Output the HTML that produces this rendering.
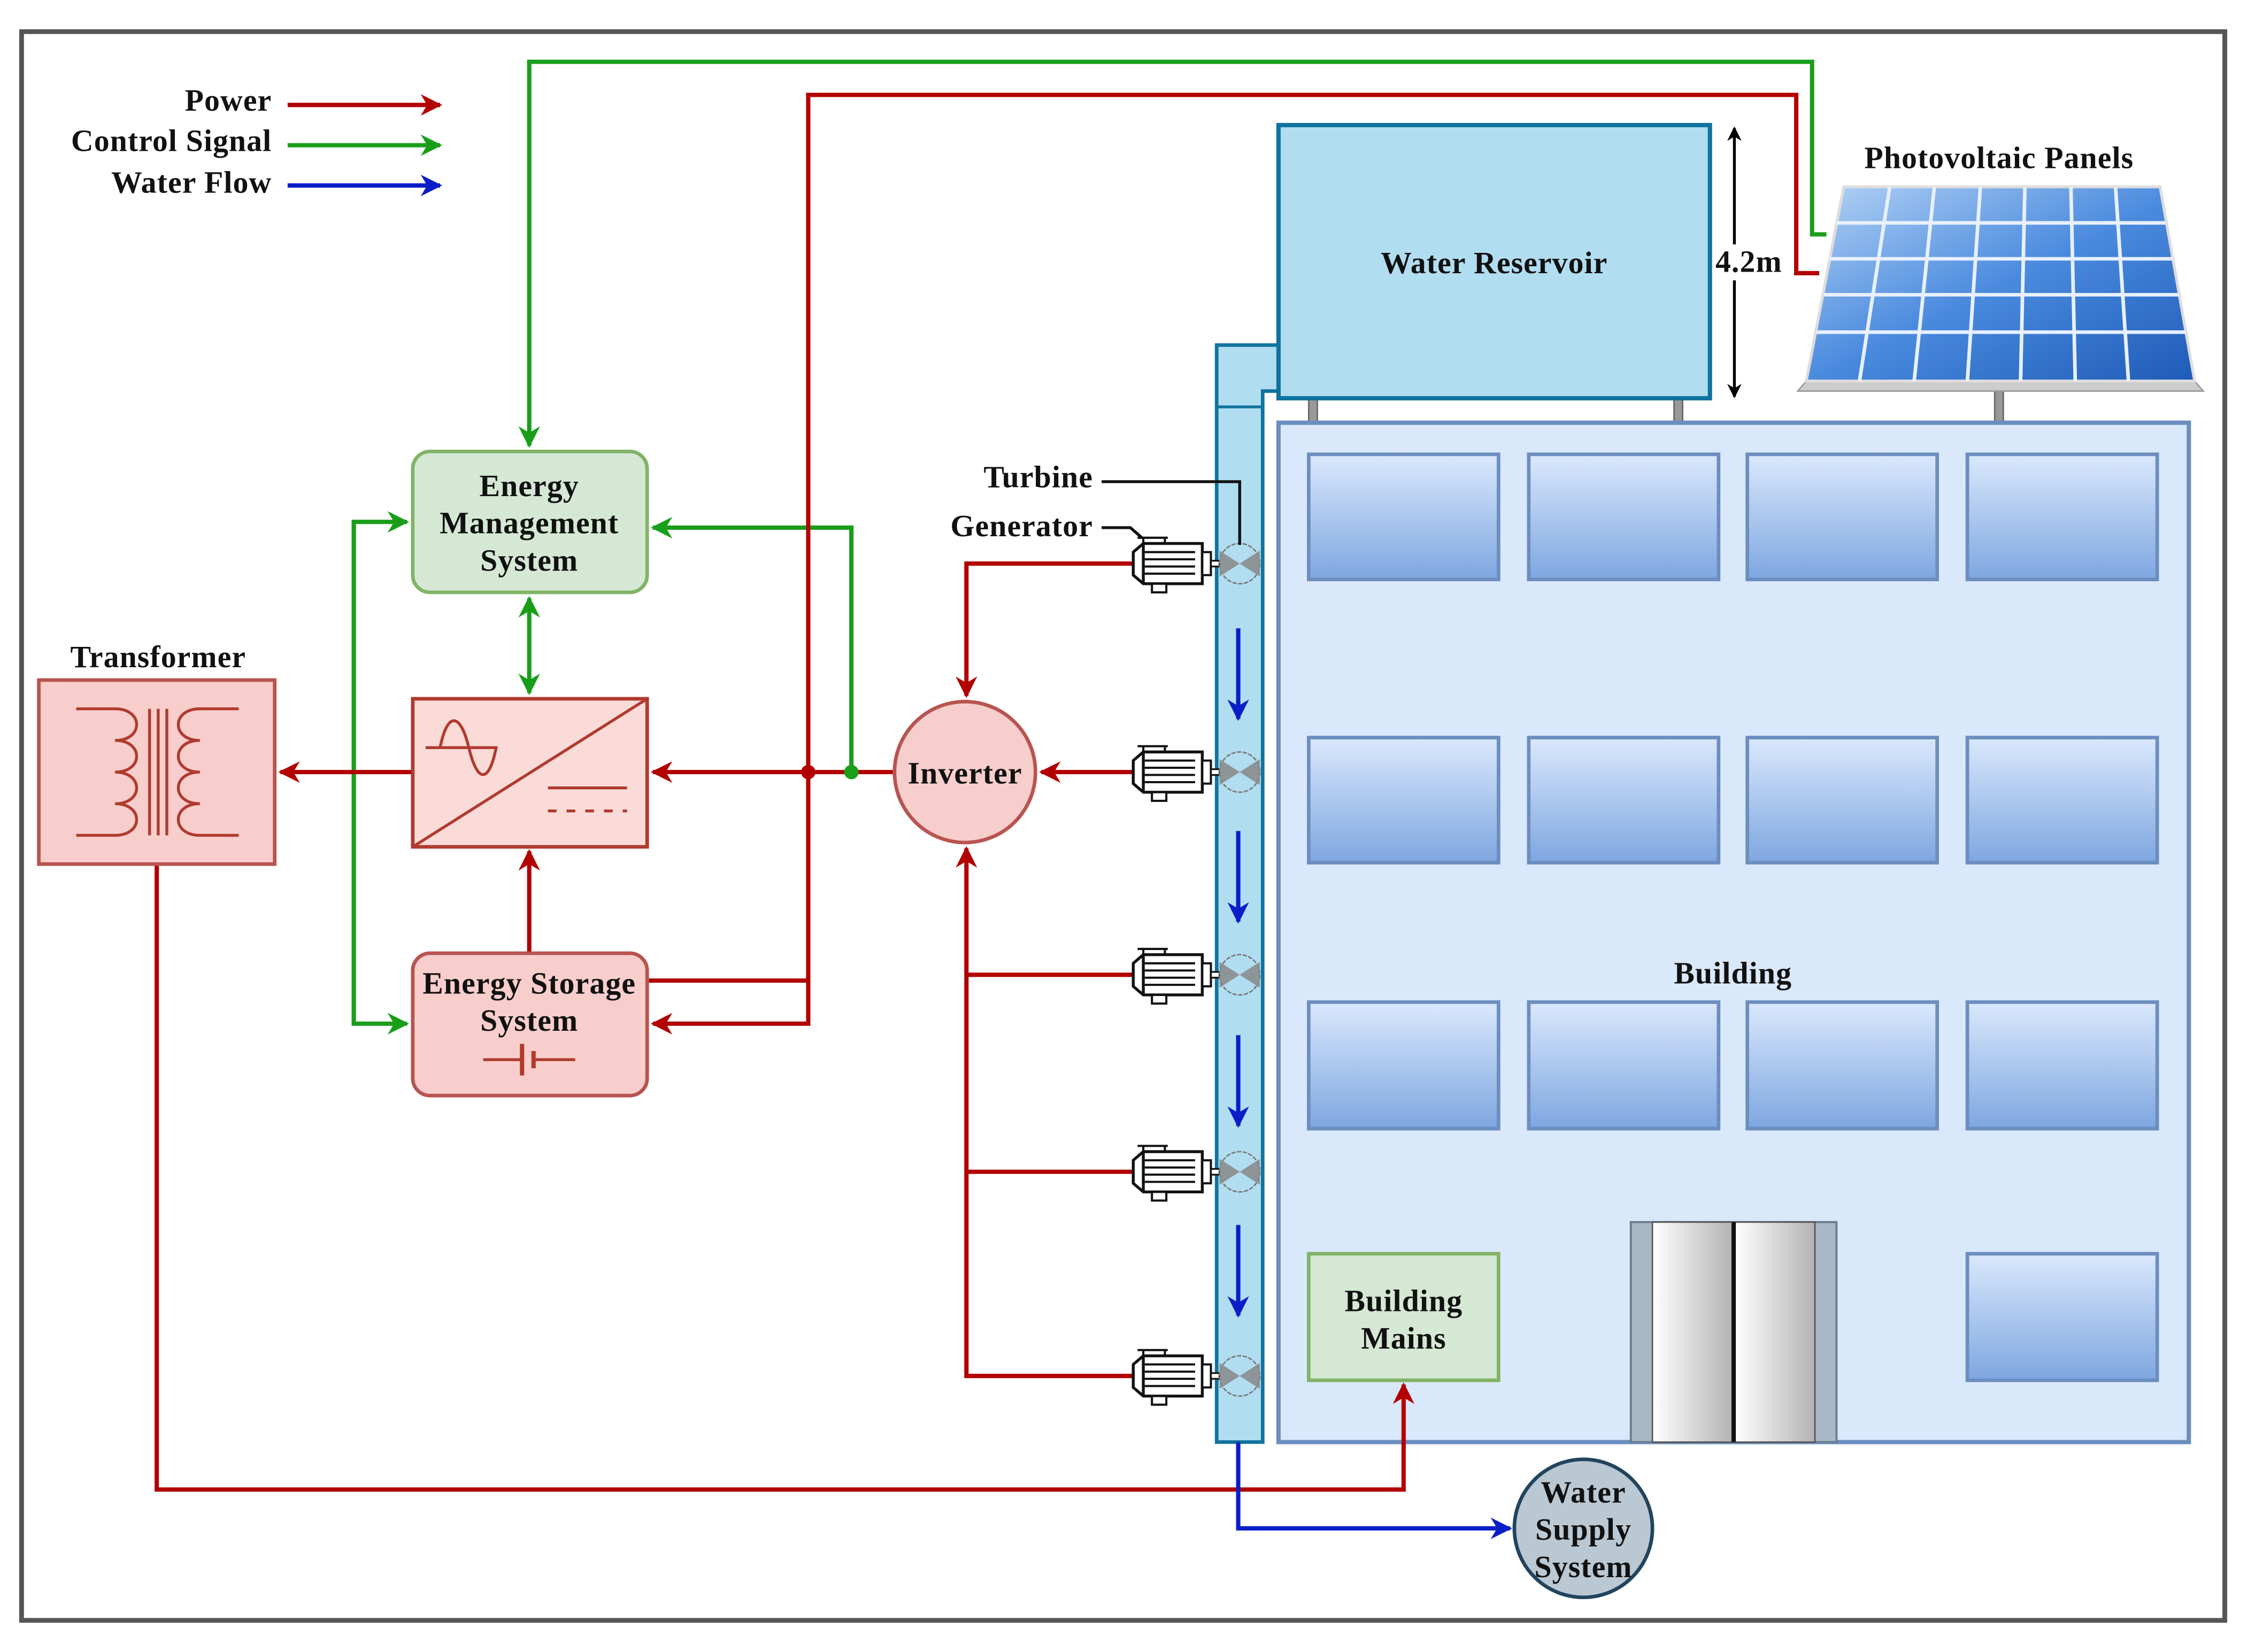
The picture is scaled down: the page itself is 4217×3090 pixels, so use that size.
<!DOCTYPE html>
<html><head><meta charset="utf-8"><style>
html,body{margin:0;padding:0;background:#fff}
svg{display:block}
text{font-family:"Liberation Serif",serif;font-weight:bold;font-size:21.5px;letter-spacing:0.4px;fill:#111}
</style></head><body>
<svg width="4217" height="3090" viewBox="0 0 1568 1149" preserveAspectRatio="none" xmlns="http://www.w3.org/2000/svg">
<defs>
<marker id="ar" viewBox="0 0 10 10" refX="9" refY="5" markerWidth="5" markerHeight="5" orient="auto-start-reverse"><path d="M0,0 L10,5 L0,10 L3,5z" fill="#b20000"/></marker>
<marker id="ag" viewBox="0 0 10 10" refX="9" refY="5" markerWidth="5" markerHeight="5" orient="auto-start-reverse"><path d="M0,0 L10,5 L0,10 L3,5z" fill="#1a9e1a"/></marker>
<marker id="ab" viewBox="0 0 10 10" refX="9" refY="5" markerWidth="5" markerHeight="5" orient="auto-start-reverse"><path d="M0,0 L10,5 L0,10 L3,5z" fill="#0a1ec8"/></marker>
<marker id="ak" viewBox="0 0 10 10" refX="9" refY="5" markerWidth="5" markerHeight="5" orient="auto-start-reverse"><path d="M0,0 L10,5 L0,10 L3,5z" fill="#000"/></marker>
<linearGradient id="win" x1="0" y1="0" x2="0" y2="1"><stop offset="0" stop-color="#dae8fc"/><stop offset="1" stop-color="#7ea6e0"/></linearGradient>
<linearGradient id="door" x1="0" y1="0" x2="1" y2="0"><stop offset="0" stop-color="#fff"/><stop offset="1" stop-color="#b3b3b3"/></linearGradient>
<linearGradient id="pv" x1="0" y1="0" x2="1" y2="1"><stop offset="0" stop-color="#b5d3f5"/><stop offset="0.5" stop-color="#4a8ade"/><stop offset="1" stop-color="#1e5bb8"/></linearGradient>
<g id="gen">
<path d="M-60,-8 L-53,-14 L-12,-14 L-12,14 L-53,14 L-60,8 Z" fill="#fff" stroke="#111" stroke-width="2"/>
<line x1="-53" y1="-14" x2="-53" y2="14" stroke="#111" stroke-width="2"/>
<path d="M-52,-8H-17M-52,-3H-17M-52,2H-17M-52,7H-17" stroke="#111" stroke-width="1.5"/>
<rect x="-12" y="-8" width="6" height="16" fill="#fff" stroke="#111" stroke-width="1.5"/>
<rect x="-6" y="-2" width="6" height="4" fill="#fff" stroke="#111" stroke-width="1.2"/>
<path d="M-57,-18H-36M-53,-18V-14M-38,-18V-14" stroke="#111" stroke-width="1.5"/>
<rect x="-47" y="14" width="10" height="6" fill="#fff" stroke="#111" stroke-width="1.5"/>
<circle cx="14" cy="0" r="14" fill="none" stroke="#777" stroke-width="1" stroke-dasharray="3,1"/>
<path d="M0,-9 L28,9 L28,-9 L0,9 Z" fill="#888" opacity="0.85"/>
</g>
</defs>
<rect x="15" y="22" width="1532" height="1105" fill="#fff" stroke="#555" stroke-width="3.3"/>
<!-- legend -->
<text x="189" y="77" text-anchor="end">Power</text>
<text x="189" y="105" text-anchor="end">Control Signal</text>
<text x="189" y="134" text-anchor="end">Water Flow</text>
<line x1="200" y1="73" x2="306" y2="73" stroke="#b20000" stroke-width="3" marker-end="url(#ar)"/>
<line x1="200" y1="101" x2="306" y2="101" stroke="#1a9e1a" stroke-width="3" marker-end="url(#ag)"/>
<line x1="200" y1="129" x2="306" y2="129" stroke="#0a1ec8" stroke-width="3" marker-end="url(#ab)"/>
<!-- building -->
<rect x="910" y="277" width="6" height="17" fill="#999" stroke="#666"/>
<rect x="1164" y="277" width="6" height="17" fill="#999" stroke="#666"/>
<rect x="1387" y="270" width="6" height="24" fill="#999" stroke="#666"/>
<rect x="889" y="294" width="633" height="709" fill="#dae8fc" stroke="#6c8ebf" stroke-width="3"/>
<g fill="url(#win)" stroke="#6c8ebf" stroke-width="2.5">
<rect x="910" y="316" width="132" height="87"/><rect x="1063" y="316" width="132" height="87"/><rect x="1215" y="316" width="132" height="87"/><rect x="1368" y="316" width="132" height="87"/>
<rect x="910" y="513" width="132" height="87"/><rect x="1063" y="513" width="132" height="87"/><rect x="1215" y="513" width="132" height="87"/><rect x="1368" y="513" width="132" height="87"/>
<rect x="910" y="697" width="132" height="88"/><rect x="1063" y="697" width="132" height="88"/><rect x="1215" y="697" width="132" height="88"/><rect x="1368" y="697" width="132" height="88"/>
<rect x="1368" y="872" width="132" height="88"/>
</g>
<text x="1205" y="684" text-anchor="middle">Building</text>
<rect x="910" y="872" width="132" height="88" fill="#d5e8d4" stroke="#82b366" stroke-width="2.5"/>
<text x="976" y="912" text-anchor="middle">Building</text>
<text x="976" y="938" text-anchor="middle">Mains</text>
<rect x="1134" y="850" width="143" height="153" fill="#a9b8c6" stroke="#6c7f92" stroke-width="1.5"/>
<rect x="1149" y="850" width="56" height="153" fill="url(#door)" stroke="#555"/>
<rect x="1206" y="850" width="56" height="153" fill="url(#door)" stroke="#555"/>
<line x1="1205.5" y1="850" x2="1205.5" y2="1003" stroke="#111" stroke-width="3"/>
<!-- reservoir & pipe -->
<path d="M846,240 H889 V272 H878 V1003 H846 Z" fill="#b1ddf0" stroke="#10739e" stroke-width="2.5"/>
<line x1="846" y1="283" x2="878" y2="283" stroke="#10739e" stroke-width="2"/>
<rect x="889" y="87" width="300" height="190" fill="#b1ddf0" stroke="#10739e" stroke-width="3"/>
<text x="1039" y="190" text-anchor="middle">Water Reservoir</text>
<line x1="1206" y1="170" x2="1206" y2="89" stroke="#000" stroke-width="2" marker-end="url(#ak)"/>
<line x1="1206" y1="195" x2="1206" y2="276" stroke="#000" stroke-width="2" marker-end="url(#ak)"/>
<text x="1216" y="189" text-anchor="middle">4.2m</text>
<!-- PV -->
<text x="1390" y="117" text-anchor="middle">Photovoltaic Panels</text>
<polygon points="1250,272 1532,272 1526,265 1256,265" fill="#ccc" stroke="#999"/>
<polygon points="1282,130 1502,130 1526,265 1256,265" fill="url(#pv)" stroke="#ddd" stroke-width="2"/>
<g stroke="#e8f0ff" stroke-width="2.5" fill="none">
<path d="M1277,155 H1506 M1272,180 H1511 M1268,205 H1515 M1263,231 H1520"/>
<path d="M1314,130 L1293,265 M1345,130 L1331,265 M1377,130 L1368,265 M1408,130 L1405,265 M1440,130 L1443,265 M1471,130 L1480,265"/>
</g>
<!-- green control -->
<g fill="none" stroke="#1a9e1a" stroke-width="3">
<polyline points="1270,163 1260,163 1260,43 368,43 368,310" marker-end="url(#ag)"/>
<polyline points="592,537 592,367 454,367" marker-end="url(#ag)"/>
<line x1="368" y1="416" x2="368" y2="482" marker-start="url(#ag)" marker-end="url(#ag)"/>
<polyline points="283,363 246,363 246,712 283,712" marker-start="url(#ag)" marker-end="url(#ag)"/>
</g>
<!-- red power -->
<g fill="none" stroke="#b20000" stroke-width="3">
<polyline points="1265,190 1249,190 1249,66 562,66 562,712 454,712" marker-end="url(#ar)"/>
<polyline points="450,682 562,682"/>
<line x1="622" y1="537" x2="454" y2="537" marker-end="url(#ar)"/>
<line x1="287" y1="537" x2="195" y2="537" marker-end="url(#ar)"/>
<line x1="368" y1="663" x2="368" y2="592" marker-end="url(#ar)"/>
<polyline points="788,392 672,392 672,484" marker-end="url(#ar)"/>
<line x1="788" y1="537" x2="724" y2="537" marker-end="url(#ar)"/>
<polyline points="788,957 672,957 672,590" marker-end="url(#ar)"/>
<line x1="788" y1="678" x2="672" y2="678"/>
<line x1="788" y1="815" x2="672" y2="815"/>
<polyline points="109,601 109,1036 976,1036 976,963" marker-end="url(#ar)"/>
</g>
<circle cx="562" cy="537" r="5" fill="#b20000"/>
<circle cx="592" cy="537" r="5" fill="#1a9e1a"/>
<!-- blue -->
<g stroke="#0a1ec8" stroke-width="3" fill="none">
<line x1="861" y1="437" x2="861" y2="500" marker-end="url(#ab)"/>
<line x1="861" y1="578" x2="861" y2="641" marker-end="url(#ab)"/>
<line x1="861" y1="720" x2="861" y2="783" marker-end="url(#ab)"/>
<line x1="861" y1="852" x2="861" y2="915" marker-end="url(#ab)"/>
<polyline points="861,1003 861,1063 1050,1063" marker-end="url(#ab)"/>
</g>
<!-- generators -->
<use href="#gen" x="848" y="392"/><use href="#gen" x="848" y="537"/><use href="#gen" x="848" y="678"/><use href="#gen" x="848" y="815"/><use href="#gen" x="848" y="957"/>
<text x="760" y="339" text-anchor="end">Turbine</text>
<polyline points="766,335 862,335 862,379" fill="none" stroke="#111" stroke-width="2"/>
<text x="760" y="373" text-anchor="end">Generator</text>
<polyline points="766,367 786,367 794,374" fill="none" stroke="#111" stroke-width="2"/>
<!-- inverter -->
<circle cx="671" cy="537" r="49" fill="#f8cecc" stroke="#b85450" stroke-width="2.5"/>
<text x="671" y="545" text-anchor="middle">Inverter</text>
<!-- EMS -->
<rect x="287" y="314" width="163" height="98" rx="12" fill="#d5e8d4" stroke="#82b366" stroke-width="2.5"/>
<text x="368" y="345" text-anchor="middle">Energy</text>
<text x="368" y="371" text-anchor="middle">Management</text>
<text x="368" y="397" text-anchor="middle">System</text>
<!-- converter -->
<rect x="287" y="486" width="163" height="103" fill="#fadbd8" stroke="#b03a2e" stroke-width="2.5"/>
<g stroke="#b03a2e" stroke-width="2" fill="none">
<line x1="287" y1="589" x2="450" y2="486"/>
<line x1="296" y1="520" x2="346" y2="520"/>
<path d="M306,520 C311,495 320,495 326,520 C332,545 340,545 345,520"/>
<line x1="381" y1="548" x2="436" y2="548"/>
<line x1="381" y1="564" x2="436" y2="564" stroke-dasharray="6,7"/>
</g>
<!-- ESS -->
<rect x="287" y="663" width="163" height="99" rx="12" fill="#f8cecc" stroke="#b85450" stroke-width="2.5"/>
<text x="368" y="691" text-anchor="middle">Energy Storage</text>
<text x="368" y="717" text-anchor="middle">System</text>
<g stroke="#b03a2e" stroke-width="2"><line x1="336" y1="737" x2="362" y2="737"/><line x1="372" y1="737" x2="400" y2="737"/><line x1="363" y1="726" x2="363" y2="748" stroke-width="3"/><line x1="371" y1="731" x2="371" y2="743" stroke-width="3"/></g>
<!-- transformer -->
<text x="110" y="464" text-anchor="middle">Transformer</text>
<rect x="27" y="473" width="164" height="128" fill="#f8cecc" stroke="#b85450" stroke-width="2.5"/>
<g stroke="#b03a2e" stroke-width="2" fill="none">
<path d="M53,493 H80 C100,493 100,515 80,515 C100,515 100,537 80,537 C100,537 100,559 80,559 C100,559 100,581 80,581 H53"/>
<path d="M166,493 H139 C119,493 119,515 139,515 C119,515 119,537 139,537 C119,537 119,559 139,559 C119,559 119,581 139,581 H166"/>
<path d="M104,493 V581 M110,493 V581 M116,493 V581"/>
</g>
<!-- water supply -->
<circle cx="1101" cy="1063" r="48" fill="#bac8d3" stroke="#23445d" stroke-width="2.5"/>
<text x="1101" y="1045" text-anchor="middle">Water</text>
<text x="1101" y="1071" text-anchor="middle">Supply</text>
<text x="1101" y="1097" text-anchor="middle">System</text>
</svg>
</body></html>
